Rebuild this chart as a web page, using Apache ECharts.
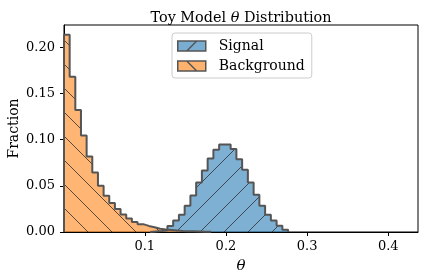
<!DOCTYPE html>
<html><head><meta charset="utf-8">
<script src="https://cdn.jsdelivr.net/npm/echarts@6/dist/echarts.min.js"></script>
<style>html,body{margin:0;padding:0;background:#fff}#c{width:424px;height:280px}</style>
</head><body><div id="c"></div>
<script>
// ---- data ----
const seriesNames = ['Signal', 'Background'];
const bgBinStart = 0.0005;
const bgBinWidth = 0.00697;
const bgValues = [0.2134, 0.168, 0.132, 0.1043, 0.0816, 0.0644, 0.050, 0.0392, 0.0313, 0.0248,
  0.0190, 0.0147, 0.0107, 0.0085, 0.0066, 0.0052, 0.0035, 0.0028, 0.0022, 0.0016, 0.0012, 0.0009,
  0.0007, 0.0005, 0.0003, 0.0002];
const sigBinStart = 0.10666;
const sigBinWidth = 0.00708;
const sigValues = [0.0005, 0.0010, 0.0020, 0.0065, 0.0125, 0.0187, 0.0284, 0.0395, 0.0536, 0.0665,
  0.0795, 0.0889, 0.0946, 0.0946, 0.0899, 0.0788, 0.0673, 0.0536, 0.0403, 0.0284, 0.0187, 0.0125,
  0.0068, 0.0025];
const xTicks = [0.1, 0.2, 0.3, 0.4];
const yTicks = [0.00, 0.05, 0.10, 0.15, 0.20];
const xRange = [0.0005, 0.4366];
const yRange = [0, 0.224];

// ---- helpers ----
function stepPoints(start, width, vals) {
  const pts = [[start, 0]];
  vals.forEach((v, i) => pts.push([start + i * width, v]));
  pts.push([start + vals.length * width, 0]);
  return pts;
}
function hatch(fill, dir) {
  const s = 24;
  const c = document.createElement('canvas'); c.width = s; c.height = s;
  const g = c.getContext('2d');
  g.fillStyle = fill; g.fillRect(0, 0, s, s);
  g.strokeStyle = 'rgba(45,45,45,0.8)'; g.lineWidth = 1;
  g.beginPath();
  for (const k of [-s, 0, s]) {
    if (dir === '/') { g.moveTo(k, s); g.lineTo(k + s, 0); }
    else { g.moveTo(k, 0); g.lineTo(k + s, s); }
  }
  g.stroke();
  return c;
}
const blueFill = 'rgba(31,119,180,0.58)';
const orangeFill = 'rgba(255,127,14,0.58)';
const edge = '#555555';
const FONT = 'DejaVu Serif';

const chart = echarts.init(document.getElementById('c'), null, {renderer: 'canvas'});
chart.setOption({
  animation: false,
  textStyle: {fontFamily: FONT, color: '#000'},
  title: {
    text: 'Toy Model {i|θ} Distribution', left: 236, textAlign: 'center', top: 6,
    textStyle: {fontFamily: FONT, fontSize: 14.4, fontWeight: 'normal', color: '#000',
      rich: {i: {fontFamily: FONT, fontSize: 14.4, fontStyle: 'italic', color: '#000'}}}
  },
  legend: {
    orient: 'vertical', left: 172, top: 33,
    padding: [6, 7, 5, 5], itemGap: 6, itemWidth: 28, itemHeight: 10,
    backgroundColor: 'rgba(255,255,255,0.8)', borderColor: '#cccccc', borderWidth: 1, borderRadius: 3,
    textStyle: {fontFamily: FONT, fontSize: 14, color: '#000', lineHeight: 14, padding: [0, 0, 0, 8]},
    data: [
      {name: 'Signal', icon: 'path://M0,0 H28 V10 H0 Z M9,10 L19,0',
        itemStyle: {color: 'rgb(121,173,210)', borderColor: edge, borderWidth: 1.5}},
      {name: 'Background', icon: 'path://M0,0 H28 V10 H0 Z M9,0 L19,10',
        itemStyle: {color: 'rgb(255,178,110)', borderColor: edge, borderWidth: 1.5}}
    ]
  },
  grid: {left: 64, right: 6, top: 25, bottom: 48, outerBoundsMode: 'none', containLabel: false,
    show: true, borderColor: '#000', borderWidth: 1, backgroundColor: 'transparent'},
  xAxis: {
    type: 'value', min: xRange[0], max: xRange[1],
    name: 'θ', nameLocation: 'middle', nameGap: 27, nameMoveOverlap: false,
    nameTextStyle: {fontFamily: FONT, fontSize: 15, fontStyle: 'italic', color: '#000'},
    splitLine: {show: false},
    axisLine: {show: true, lineStyle: {color: '#000', width: 1}},
    axisTick: {show: true, length: 4, lineStyle: {color: '#000'}, customValues: xTicks},
    axisLabel: {fontFamily: FONT, fontSize: 13, color: '#000', margin: 8, customValues: xTicks,
      formatter: v => v.toFixed(1)}
  },
  yAxis: {
    type: 'value', min: yRange[0], max: yRange[1],
    name: 'Fraction', nameLocation: 'middle', nameGap: 43, nameMoveOverlap: false,
    nameTextStyle: {fontFamily: FONT, fontSize: 14, color: '#000'},
    splitLine: {show: false},
    axisLine: {show: true, lineStyle: {color: '#000', width: 1}},
    axisTick: {show: true, length: 4, lineStyle: {color: '#000'}, customValues: yTicks},
    axisLabel: {fontFamily: FONT, fontSize: 13, color: '#000', margin: 9, customValues: yTicks,
      formatter: v => v.toFixed(2)}
  },
  series: [
    {
      name: seriesNames[0], type: 'line', step: 'end', symbol: 'none',
      data: stepPoints(sigBinStart, sigBinWidth, sigValues),
      lineStyle: {color: edge, width: 2},
      itemStyle: {color: 'rgb(121,173,210)'},
      areaStyle: {color: {image: hatch(blueFill, '/'), repeat: 'repeat'}, opacity: 1}
    },
    {
      name: seriesNames[1], type: 'line', step: 'end', symbol: 'none',
      data: stepPoints(bgBinStart, bgBinWidth, bgValues),
      lineStyle: {color: edge, width: 2},
      itemStyle: {color: 'rgb(255,178,110)'},
      areaStyle: {color: {image: hatch(orangeFill, '\\'), repeat: 'repeat'}, opacity: 1}
    }
  ]
});
</script></body></html>
